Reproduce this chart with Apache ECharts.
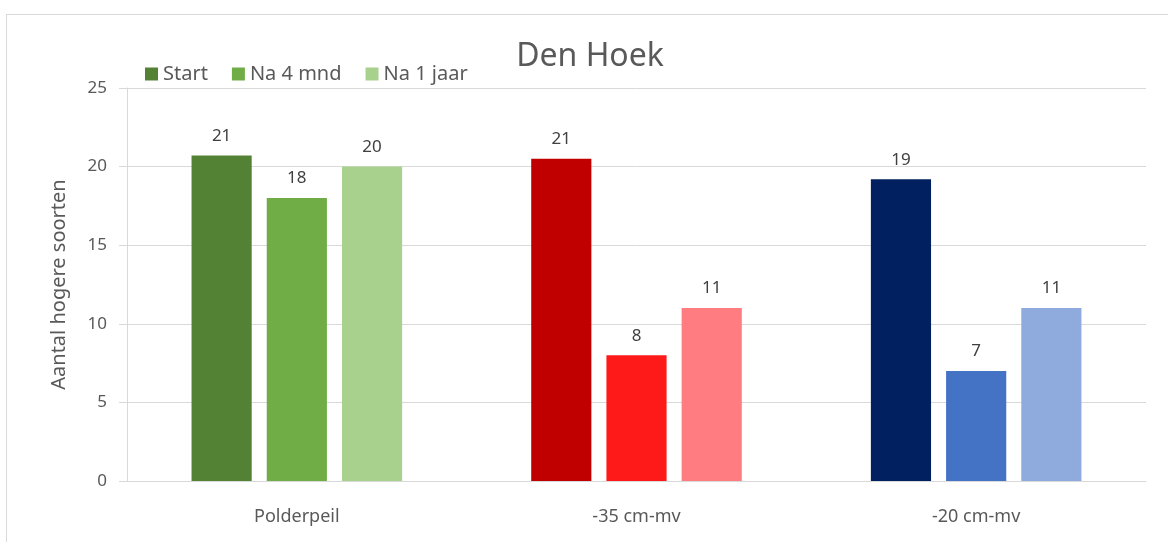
<!DOCTYPE html>
<html>
<head>
    <meta charset="utf-8">
    <title>Den Hoek</title>
    <script src="https://cdn.jsdelivr.net/npm/echarts@6/dist/echarts.min.js"></script>
    <style>
        body { margin: 0; background: #fff; }
        #frame { position: absolute; left: 6px; top: 14px; width: 1170px; height: 540px; border: 1px solid #d9d9d9; }
        #main { position: absolute; left: 0; top: 0; width: 1168px; height: 542px; }
    </style>
</head>
<body>
    <div id="frame"></div>
    <div id="main"></div>
    <script type="text/javascript">
        // chart data
        var categories = ['Polderpeil', '-35 cm-mv', '-20 cm-mv'];
        var seriesNames = ['Start', 'Na 4 mnd', 'Na 1 jaar'];
        var startValues = [20.7, 20.5, 19.2];
        var na4mndValues = [18, 8, 7];
        var na1jaarValues = [20, 11, 11];

        // colours per category (rows) and per series (columns)
        var palette = [
            ['#548235', '#70ad47', '#a9d18e'],
            ['#c00000', '#ff1a1a', '#ff7c80'],
            ['#002060', '#4472c4', '#8faadc']
        ];

        var font = 'Noto Sans';
        var textColor = '#595959';

        function makeSeries(name, values, idx) {
            return {
                name: name,
                type: 'bar',
                barGap: '25%',
                barCategoryGap: '38%',
                itemStyle: { color: palette[0][idx] },
                label: {
                    show: true,
                    position: 'top',
                    distance: 11,
                    color: '#404040',
                    fontSize: 17,
                    fontFamily: font,
                    formatter: function (p) { return Math.round(p.value); }
                },
                data: values.map(function (v, i) {
                    return { value: v, itemStyle: { color: palette[i][idx] } };
                })
            };
        }

        var myChart = echarts.init(document.getElementById('main'));

        var option = {
            animation: false,
            title: {
                text: 'Den Hoek',
                left: 585,
                textAlign: 'center',
                top: 36,
                textStyle: { fontFamily: font, fontSize: 32, fontWeight: 'normal', color: textColor }
            },
            legend: {
                data: seriesNames,
                left: 140,
                top: 59,
                itemWidth: 13,
                itemHeight: 13,
                itemGap: 24,
                icon: 'rect',
                textStyle: { fontFamily: font, fontSize: 20, color: textColor }
            },
            grid: { left: 127, right: 22, top: 88, bottom: 61 },
            xAxis: {
                type: 'category',
                data: categories,
                axisLine: { lineStyle: { color: '#d9d9d9', width: 1 } },
                axisTick: { show: false },
                axisLabel: { fontFamily: font, fontSize: 18, color: textColor, margin: 27 }
            },
            yAxis: {
                type: 'value',
                min: 0,
                max: 25,
                interval: 5,
                name: 'Aantal hogere soorten',
                nameLocation: 'middle',
                nameGap: 58,
                nameTextStyle: { fontFamily: font, fontSize: 20, color: textColor },
                axisLine: { show: true, lineStyle: { color: '#d9d9d9' } },
                axisTick: { show: true, length: 8, lineStyle: { color: '#d9d9d9' } },
                axisLabel: { fontFamily: font, fontSize: 17, color: textColor, margin: 20 },
                splitLine: { lineStyle: { color: '#d9d9d9' } }
            },
            series: [
                makeSeries(seriesNames[0], startValues, 0),
                makeSeries(seriesNames[1], na4mndValues, 1),
                makeSeries(seriesNames[2], na1jaarValues, 2)
            ]
        };

        myChart.setOption(option);
    </script>
</body>
</html>
